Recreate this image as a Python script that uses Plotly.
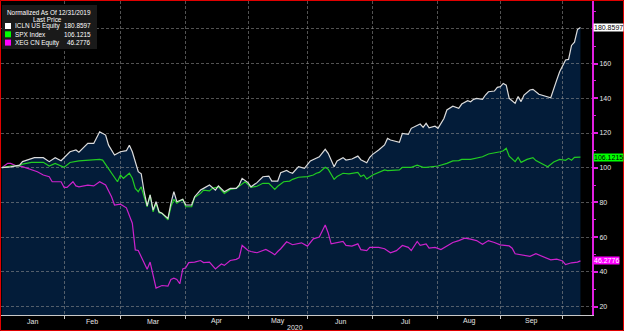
import plotly.graph_objects as go

# ---------------------------------------------------------------------------
# Prices normalised to 100 at the 31 Dec 2019 close.
# x values are trading sessions counted from that close (session 0).
# ---------------------------------------------------------------------------
icln_session = [0, 3, 6, 7, 11, 14, 16, 18, 20, 23, 25, 26, 29, 31, 33, 35, 36, 38, 40, 42,
                43, 44, 46, 47, 48, 49, 50, 51, 52, 53, 54, 56, 57, 58, 59, 61, 62, 64, 65, 67,
                68, 70, 72, 73, 75, 77, 79, 80, 81, 83, 84, 86, 88, 90, 91, 93, 94, 96, 97, 98,
                100, 102, 104, 106, 107, 109, 110, 112, 113, 115, 116, 118, 120, 121, 123, 124,
                125, 127, 129, 130, 131, 134, 135, 137, 138, 141, 142, 143, 144, 146, 147, 149,
                150, 152, 154, 155, 157, 158, 159, 160, 162, 163, 164, 166, 167, 168, 169, 170,
                171, 173, 174, 175, 176, 178, 179, 181, 182, 183, 185, 187, 188, 190, 191, 192,
                193, 194, 195]
icln_value = [100.0, 100.5, 101.5, 103.5, 105.8, 105.8, 103.5, 105.8, 104.0, 109.2, 110.2, 108.9,
              114.0, 114.0, 120.7, 118.8, 113.0, 107.3, 109.2, 109.8, 113.0, 109.2, 97.7, 96.5,
              86.0, 78.0, 84.3, 75.6, 80.4, 74.6, 73.7, 70.8, 79.5, 86.2, 80.4, 81.8, 78.5, 78.5,
              83.3, 87.1, 88.1, 90.0, 87.1, 89.5, 86.2, 88.1, 88.1, 90.0, 93.9, 91.4, 89.0, 91.4,
              94.8, 95.2, 92.3, 92.3, 97.1, 98.4, 97.4, 96.8, 100.6, 99.6, 103.9, 105.4, 106.3,
              110.6, 108.3, 100.6, 103.9, 105.8, 104.4, 105.0, 106.7, 104.6, 102.9, 106.0, 107.7,
              110.2, 113.1, 116.9, 116.0, 114.6, 119.8, 119.2, 122.7, 125.2, 123.3, 125.6, 123.0,
              123.9, 122.7, 128.4, 133.3, 135.5, 134.2, 136.7, 138.6, 138.0, 139.4, 140.0, 139.4,
              141.9, 143.8, 144.2, 146.3, 146.7, 148.6, 147.6, 140.0, 137.1, 141.0, 138.1, 141.9,
              144.8, 145.2, 142.3, 141.9, 141.5, 140.3, 150.5, 155.3, 162.1, 162.4, 170.5, 172.4,
              179.6, 180.8597]

spx_session = [0, 3, 6, 7, 10, 14, 16, 18, 21, 23, 26, 29, 33, 34, 36, 37, 39, 40, 41, 43, 44,
               45, 46, 47, 48, 49, 50, 51, 52, 53, 54, 56, 57, 58, 59, 61, 62, 64, 65, 67, 68,
               70, 71, 73, 75, 77, 79, 81, 82, 84, 86, 88, 90, 92, 93, 95, 97, 98, 100, 103,
               105, 106, 107, 109, 110, 112, 113, 115, 117, 120, 121, 122, 123, 125, 127, 129,
               130, 132, 134, 135, 138, 140, 142, 143, 145, 147, 150, 152, 154, 155, 158, 160,
               162, 164, 167, 168, 169, 170, 171, 173, 174, 175, 177, 179, 180, 182, 184, 186,
               188, 190, 191, 192, 193, 195]
spx_value = [100.0, 101.0, 101.0, 102.1, 103.1, 103.1, 101.0, 102.5, 100.2, 103.0, 103.9, 104.4,
             104.8, 104.4, 99.6, 96.8, 91.9, 95.8, 93.9, 96.8, 93.9, 88.1, 86.2, 89.0, 83.5,
             77.5, 84.3, 74.6, 79.5, 74.1, 73.7, 69.9, 77.5, 81.8, 79.5, 81.8, 77.5, 77.5, 82.9,
             85.2, 87.1, 86.6, 88.1, 89.0, 85.2, 87.5, 88.1, 90.6, 91.9, 88.7, 89.3, 91.0, 91.0,
             87.5, 89.3, 91.9, 92.3, 93.3, 94.5, 94.9, 95.8, 96.8, 97.3, 100.2, 99.1, 93.3, 94.9,
             96.8, 96.4, 97.3, 94.9, 95.8, 93.5, 95.8, 97.3, 98.7, 98.3, 98.7, 98.7, 100.2, 100.2,
             101.5, 100.2, 100.2, 100.6, 101.0, 102.5, 103.9, 104.1, 104.8, 104.8, 105.4, 106.3,
             107.9, 108.6, 109.2, 109.8, 111.2, 106.7, 103.5, 106.0, 103.1, 104.8, 105.8, 104.1,
             102.5, 100.6, 103.3, 104.8, 104.3, 105.4, 104.3, 106.0, 106.1215]

xeg_session = [0, 2, 3, 5, 7, 10, 12, 14, 16, 17, 20, 21, 22, 24, 25, 26, 29, 31, 33, 35, 37,
               38, 40, 42, 43, 44, 45, 46, 47, 48, 49, 50, 51, 52, 54, 56, 57, 58, 59, 60, 61,
               62, 63, 65, 67, 68, 70, 72, 74, 75, 77, 79, 80, 81, 83, 84, 86, 88, 89, 91, 92,
               93, 94, 96, 97, 98, 101, 103, 105, 107, 109, 110, 111, 113, 115, 116, 118, 120,
               121, 123, 124, 127, 129, 131, 133, 135, 137, 138, 140, 141, 143, 144, 146, 148,
               150, 152, 154, 156, 158, 160, 162, 164, 166, 168, 171, 172, 173, 175, 178, 180,
               182, 184, 185, 187, 189, 190, 192, 194, 195]
xeg_value = [100.0, 102.5, 102.5, 101.0, 100.6, 99.0, 97.7, 95.8, 94.8, 91.9, 91.9, 88.7, 88.7,
             91.9, 89.5, 89.0, 90.0, 89.5, 91.9, 90.0, 83.3, 78.5, 79.0, 76.9, 71.8, 68.0, 52.6,
             52.3, 48.7, 45.5, 41.5, 45.6, 37.9, 30.6, 32.1, 31.7, 35.6, 36.3, 35.6, 33.1, 41.7,
             42.3, 45.3, 45.6, 46.5, 45.3, 45.6, 41.7, 44.5, 43.7, 46.5, 47.2, 48.1, 55.2, 52.3,
             51.7, 51.0, 52.3, 52.9, 51.0, 49.8, 51.7, 53.3, 57.3, 56.3, 55.6, 56.7, 54.8, 59.0,
             60.0, 67.0, 62.4, 56.1, 56.7, 57.5, 55.2, 54.8, 56.1, 52.8, 52.2, 54.1, 54.1, 53.3,
             51.0, 52.2, 55.2, 54.1, 52.2, 57.5, 55.2, 56.1, 53.6, 54.1, 52.8, 54.9, 56.9, 58.0,
             59.4, 58.8, 58.0, 55.9, 58.0, 56.9, 55.5, 54.9, 53.6, 50.4, 49.8, 48.9, 50.4, 48.9,
             47.3, 46.9, 47.3, 46.2, 44.2, 45.2, 45.6, 46.2776]

series_names = ["ICLN US Equity", "SPX Index", "XEG CN Equity"]
series_colors = ["#dcdcdc", "#22cc22", "#cc22cc"]
tag_colors = ["#ffffff", "#00ff00", "#ff00ff"]
tag_text_colors = ["#000000", "#000000", "#ffffff"]

month_labels = ["Jan", "Feb", "Mar", "Apr", "May", "Jun", "Jul", "Aug", "Sep"]
month_end_session = [21, 40, 62, 83, 103, 125, 147, 168, 189]
year_label = "2020"
y_ticks = [20, 40, 60, 80, 100, 120, 140, 160, 180]
# the top level sits under the ICLN last-price tag, so its label is left blank
y_tick_text = ["20", "40", "60", "80", "100", "120", "140", "160", ""]
y_minor_ticks = [30, 50, 70, 90, 110, 130, 150, 170, 190]

# ---------------------------------------------------------------------------
# Layout geometry
# ---------------------------------------------------------------------------
W, H = 624, 331
M_L, M_R, M_T, M_B = 1, 32, 1, 16
PW = W - M_L - M_R
PH = H - M_T - M_B
X_RANGE = [-0.25, 198.9]
Y_RANGE = [15.1, 196.1]

FONT = "Liberation Sans, Arial, sans-serif"
AXIS_PINK = "#e020e0"
GRID = "rgba(150,150,150,0.55)"
NAVY = "#031c39"
TXT = "#e6e6e6"


def px_x(px):
    return (px - M_L) / PW


def px_y(py):
    return (H - M_B - py) / PH


fig = go.Figure()

# area under the ICLN line, kept beneath the gridlines
area_path = f"M {icln_session[0]},{Y_RANGE[0]} "
area_path += " ".join(f"L {s},{v}" for s, v in zip(icln_session, icln_value))
area_path += f" L {icln_session[-1]},{Y_RANGE[0]} Z"

shapes = [
    dict(type="path", xref="x", yref="y", path=area_path,
         fillcolor=NAVY, line=dict(width=0), layer="below"),
]

for sess, vals, name, col in [
    (xeg_session, xeg_value, series_names[2], series_colors[2]),
    (spx_session, spx_value, series_names[1], series_colors[1]),
    (icln_session, icln_value, series_names[0], series_colors[0]),
]:
    fig.add_trace(go.Scatter(x=sess, y=vals, mode="lines", name=name,
                             line=dict(color=col, width=1.2), showlegend=False))

annotations = []

# month names centred between month boundaries
bounds = [0] + month_end_session
for i, lab in enumerate(month_labels):
    annotations.append(dict(x=(bounds[i] + bounds[i + 1]) / 2, xref="x",
                            y=px_y(321), yref="paper", text=lab, showarrow=False,
                            xanchor="center", yanchor="middle",
                            font=dict(family=FONT, size=7, color=TXT)))
annotations.append(dict(x=px_x(295), xref="paper", y=px_y(327.5), yref="paper",
                        text=year_label, showarrow=False, xanchor="center", yanchor="middle",
                        font=dict(family=FONT, size=7, color=TXT)))

# last-price tags on the right axis
last_values = [icln_value[-1], spx_value[-1], xeg_value[-1]]
for v, bg, fc in zip(last_values, tag_colors, tag_text_colors):
    annotations.append(dict(x=1, xref="paper", y=v, yref="y", text=f"{v:.4f}",
                            showarrow=False, xanchor="left", yanchor="middle", xshift=1,
                            bgcolor=bg, borderpad=0,
                            font=dict(family=FONT, size=7, color=fc)))

# legend panel
LEG = 6.4
shapes.append(dict(type="rect", xref="paper", yref="paper",
                   x0=px_x(2), x1=px_x(97), y0=px_y(49), y1=px_y(5),
                   fillcolor="#1a1a1a", line=dict(width=0), layer="above"))
annotations.append(dict(x=px_x(49), xref="paper", y=px_y(12.5), yref="paper",
                        text="Normalized As Of 12/31/2019", showarrow=False,
                        xanchor="center", yanchor="middle",
                        font=dict(family=FONT, size=LEG, color="#ffffff")))
annotations.append(dict(x=px_x(47), xref="paper", y=px_y(19.5), yref="paper",
                        text="Last Price", showarrow=False,
                        xanchor="center", yanchor="middle",
                        font=dict(family=FONT, size=LEG, color="#ffffff")))
row_y = [26, 34.3, 42.6]
for ry, name, v, sq in zip(row_y, series_names, last_values, tag_colors):
    shapes.append(dict(type="rect", xref="paper", yref="paper",
                       x0=px_x(5), x1=px_x(11), y0=px_y(ry + 3), y1=px_y(ry - 3),
                       fillcolor=sq, line=dict(width=0), layer="above"))
    annotations.append(dict(x=px_x(12.5), xref="paper", y=px_y(ry), yref="paper",
                            text=name, showarrow=False, xanchor="left", yanchor="middle",
                            font=dict(family=FONT, size=LEG, color="#ffffff")))
    annotations.append(dict(x=px_x(92.5), xref="paper", y=px_y(ry), yref="paper",
                            text=f"{v:.4f}", showarrow=False, xanchor="right", yanchor="middle",
                            font=dict(family=FONT, size=LEG, color="#ffffff")))

# thin red frame round the whole picture
shapes.append(dict(type="rect", xref="paper", yref="paper",
                   x0=px_x(0.5), x1=px_x(W - 0.5), y0=px_y(H - 0.5), y1=px_y(0.5),
                   line=dict(color="#e00000", width=1), fillcolor="rgba(0,0,0,0)",
                   layer="above"))

fig.update_layout(
    width=W, height=H,
    margin=dict(l=M_L, r=M_R, t=M_T, b=M_B, pad=0),
    paper_bgcolor="#000000",
    plot_bgcolor="#000000",
    showlegend=False,
    shapes=shapes,
    annotations=annotations,
    xaxis=dict(range=X_RANGE, tickmode="array", tickvals=month_end_session,
               showticklabels=False, showgrid=True, gridcolor=GRID, griddash="3px,2px",
               gridwidth=1, showline=True, linecolor="#c8c8c8", linewidth=1,
               ticks="outside", ticklen=3, tickcolor="#c8c8c8", zeroline=False),
    yaxis=dict(range=Y_RANGE, side="right", tickmode="array", tickvals=y_ticks,
               ticktext=y_tick_text,
               showgrid=True, gridcolor=GRID, griddash="3px,2px", gridwidth=1,
               showline=True, linecolor=AXIS_PINK, linewidth=2,
               ticks="outside", ticklen=4, tickwidth=2, tickcolor=AXIS_PINK,
               minor=dict(tickvals=y_minor_ticks, ticks="outside", ticklen=2,
                          tickwidth=1, tickcolor=AXIS_PINK, showgrid=False),
               tickfont=dict(family=FONT, size=7, color=TXT), zeroline=False),
)

fig.write_html("out.html")
